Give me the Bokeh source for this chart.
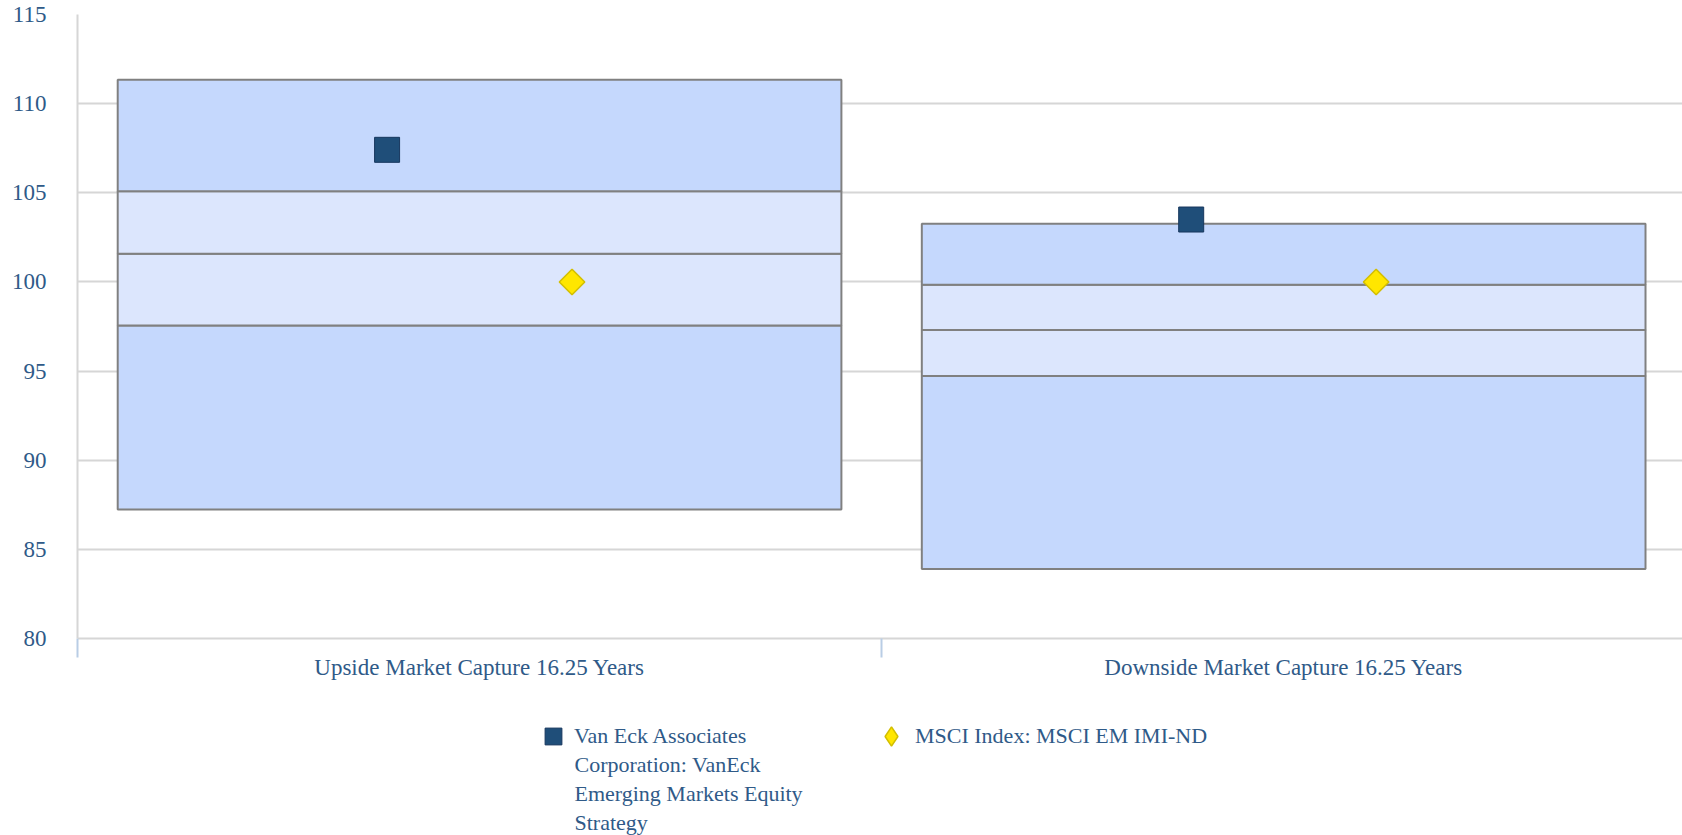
import math
from bokeh.plotting import figure
from bokeh.layouts import column
from bokeh.models import (ColumnDataSource, Range1d, FixedTicker, Legend, LegendItem, Label)
from bokeh.embed import file_html
from bokeh.resources import INLINE

# ---------------- data ----------------
categories = ["Upside Market Capture 16.25 Years", "Downside Market Capture 16.25 Years"]
pct05 = [87.24, 83.90]
pct25 = [97.56, 94.73]
pct50 = [101.58, 97.31]
pct75 = [105.09, 99.84]
pct95 = [111.34, 103.26]
vaneck = [107.41, 103.50]
msci = [100.00, 100.00]
series_names = ["Van Eck Associates Corporation: VanEck Emerging Markets Equity Strategy",
                "MSCI Index: MSCI EM IMI-ND"]
series1_lines = ["Van Eck Associates", "Corporation: VanEck", "Emerging Markets Equity", "Strategy"]
y_ticks = [80, 85, 90, 95, 100, 105, 110, 115]

# ---------------- style ----------------
TEXT = "#2f5a88"
FONT = "Liberation Serif"
GRID = "#d6d6d6"
OUTER = "#c5d8fd"
INNER = "#dce6fd"
EDGE = "#808080"
SQ_FILL, SQ_LINE = "#1f4e79", "#17375e"
DM_FILL, DM_LINE = "#ffe600", "#d2be00"

p = figure(width=1682, height=700, output_backend="svg", toolbar_location=None,
           x_range=Range1d(0, 1.996), y_range=Range1d(80, 115),
           min_border_left=77, min_border_right=0, min_border_top=14, min_border_bottom=62,
           outline_line_color=None, background_fill_color="white")

# ---------------- floating boxes ----------------
left, right, bottom, top, fills = [], [], [], [], []
for i in range(len(categories)):
    bands = [(pct05[i], pct25[i], OUTER), (pct25[i], pct50[i], INNER),
             (pct50[i], pct75[i], INNER), (pct75[i], pct95[i], OUTER)]
    for b, t, c in bands:
        left.append(i + 0.05)
        right.append(i + 0.95)
        bottom.append(b)
        top.append(t)
        fills.append(c)
box_src = ColumnDataSource(dict(left=left, right=right, bottom=bottom, top=top, fill=fills))
p.quad(left="left", right="right", bottom="bottom", top="top", fill_color="fill",
       line_color=EDGE, line_width=2, source=box_src)

# ---------------- markers ----------------
sq_src = ColumnDataSource(dict(x=[i + 0.5 - 0.115 for i in range(len(categories))], y=vaneck))
dm_src = ColumnDataSource(dict(x=[i + 0.5 + 0.115 for i in range(len(categories))], y=msci))
p.scatter("x", "y", source=sq_src, marker="square", size=25,
          fill_color=SQ_FILL, line_color=SQ_LINE, line_width=1)
p.scatter("x", "y", source=dm_src, marker="square", size=18, angle=math.pi / 4,
          fill_color=DM_FILL, line_color=DM_LINE, line_width=1.5)

# ---------------- axes ----------------
xa = p.xaxis[0]
xa.ticker = FixedTicker(ticks=[i + 0.5 for i in range(len(categories))],
                        minor_ticks=[float(i) for i in range(len(categories) + 1)])
xa.major_label_overrides = {i + 0.5: c for i, c in enumerate(categories)}
xa.major_tick_line_color = None
xa.major_tick_out = 0
xa.major_tick_in = 0
xa.minor_tick_line_color = "#b9cde5"
xa.minor_tick_line_width = 2
xa.minor_tick_out = 19
xa.minor_tick_in = 0
xa.axis_line_color = GRID
xa.axis_line_width = 2
xa.major_label_standoff = -3
xa.major_label_text_font = FONT
xa.major_label_text_font_size = "23px"
xa.major_label_text_color = TEXT

ya = p.yaxis[0]
ya.ticker = FixedTicker(ticks=y_ticks)
ya.major_tick_line_color = None
ya.minor_tick_line_color = None
ya.major_tick_out = 0
ya.major_tick_in = 0
ya.axis_line_color = GRID
ya.axis_line_width = 2
ya.major_label_standoff = 31
ya.major_label_text_font = FONT
ya.major_label_text_font_size = "23px"
ya.major_label_text_color = TEXT

p.xgrid.grid_line_color = None
p.ygrid.grid_line_color = GRID
p.ygrid.grid_line_width = 2

# ---------------- legend strip ----------------
lg = figure(width=1682, height=135, output_backend="svg", toolbar_location=None,
            x_range=Range1d(0, 1), y_range=Range1d(0, 1),
            x_axis_location=None, y_axis_location=None,
            min_border_left=0, min_border_right=0, min_border_top=0, min_border_bottom=0,
            outline_line_color=None)
lg.xgrid.grid_line_color = None
lg.ygrid.grid_line_color = None
key_sq = lg.scatter(x=[float("nan")], y=[float("nan")], marker="square",
                    fill_color=SQ_FILL, line_color=SQ_LINE, line_width=1)
key_dm = lg.scatter(x=[float("nan")], y=[float("nan")], marker="diamond",
                    fill_color=DM_FILL, line_color=DM_LINE, line_width=1.5)

legend_style = dict(orientation="horizontal", label_standoff=0, spacing=0, padding=0, margin=0,
                    border_line_color=None, background_fill_alpha=0,
                    label_text_font=FONT, label_text_font_size="22px",
                    label_text_color=TEXT)
lg.add_layout(Legend(items=[LegendItem(label=series1_lines[0], renderers=[key_sq])],
                     location=(455, 78), glyph_width=42, glyph_height=42, **legend_style),
              "center")
lg.add_layout(Legend(items=[LegendItem(label=series_names[1], renderers=[key_dm])],
                     location=(790, 75), glyph_width=48, glyph_height=48, **legend_style),
              "center")
lg.add_layout(Label(x=497, y=84, x_units="screen", y_units="screen",
                    text="\n".join(series1_lines[1:]), text_baseline="top", text_align="left",
                    text_font=FONT, text_font_size="22px", text_color=TEXT,
                    text_line_height=1.17))

open("out.html", "w").write(file_html(column(p, lg, spacing=0), INLINE))
